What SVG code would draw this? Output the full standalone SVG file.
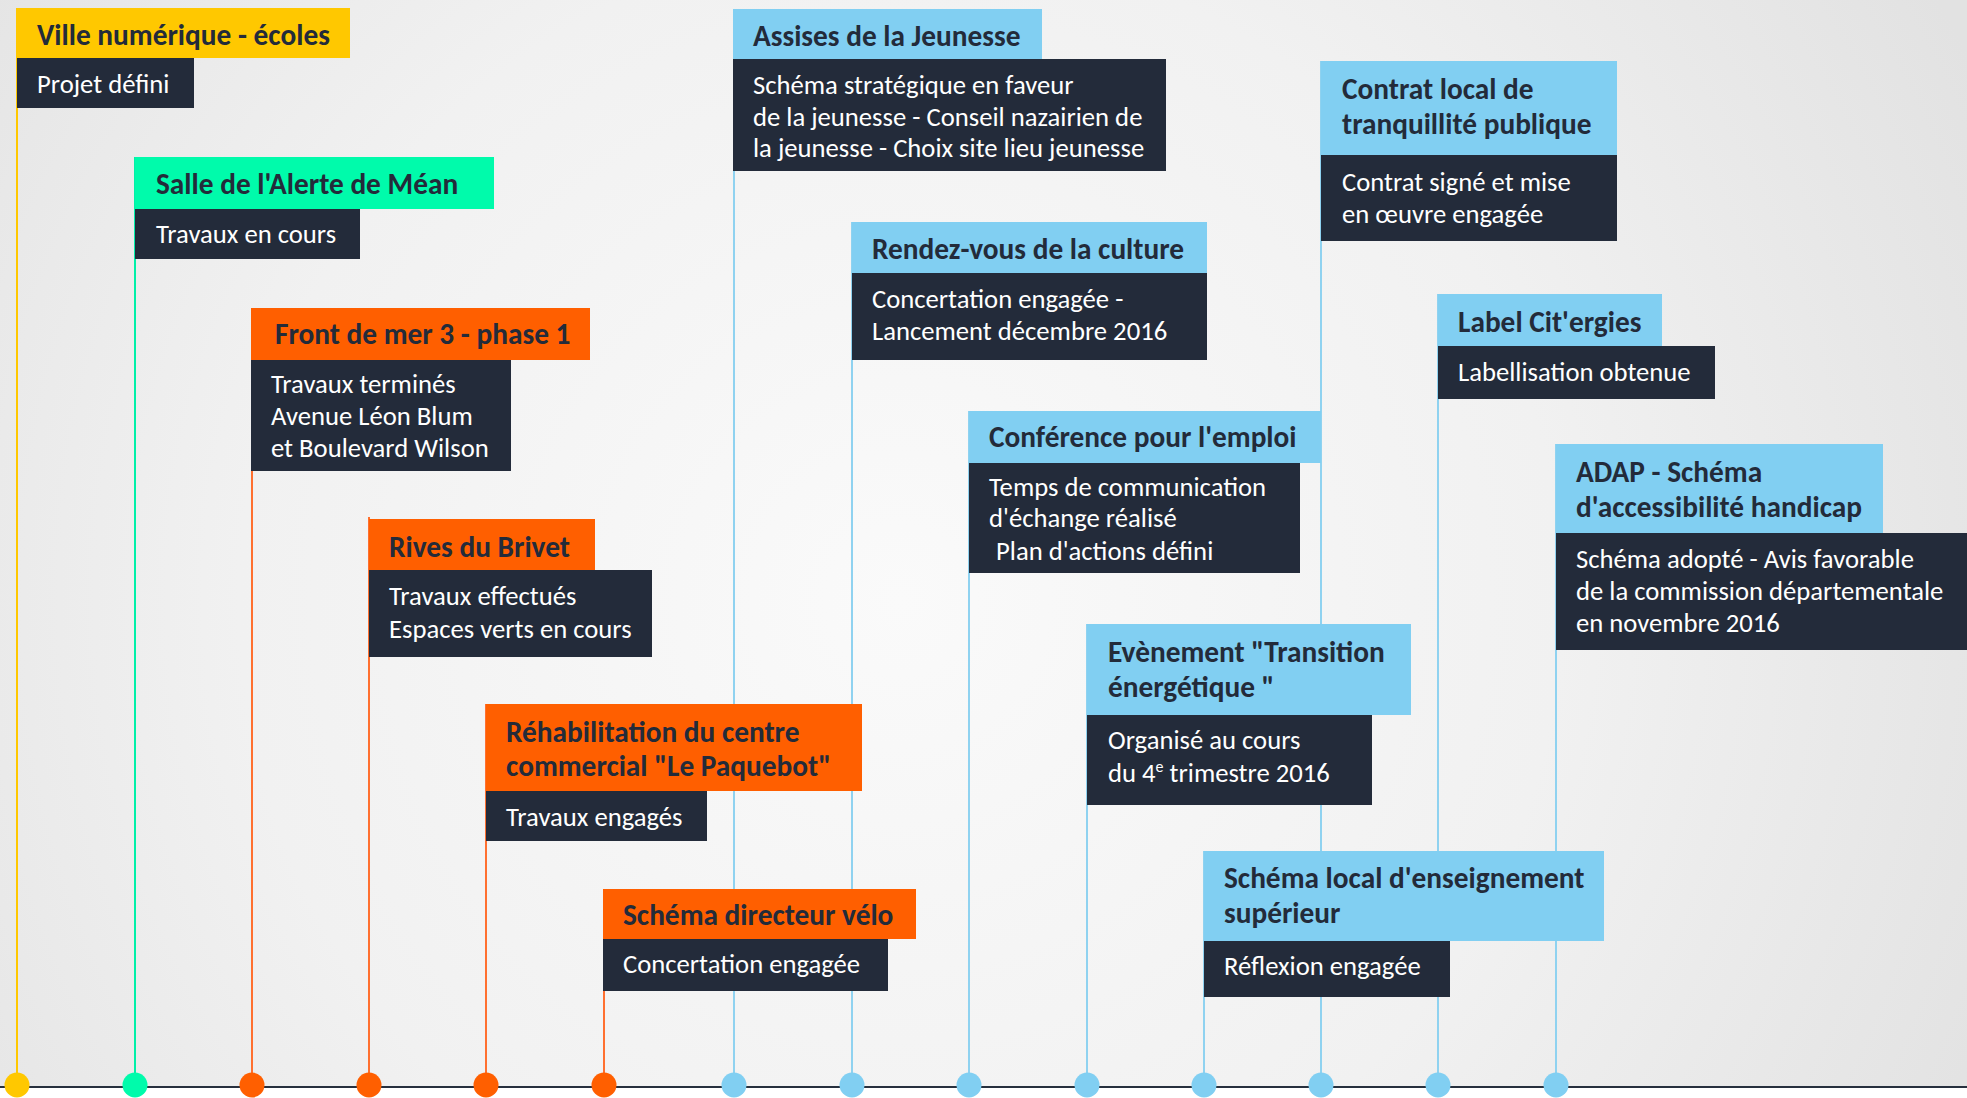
<svg xmlns="http://www.w3.org/2000/svg" width="1967" height="1098" viewBox="0 0 1967 1098">
<defs>
<radialGradient id="bg" cx="900" cy="600" r="1200" gradientUnits="userSpaceOnUse">
<stop offset="0" stop-color="#fafafa"/>
<stop offset="0.55" stop-color="#f1f1f1"/>
<stop offset="1" stop-color="#e2e2e2"/>
</radialGradient>
<style>
.hd{font-family:Carlito,Lato,"Liberation Sans",sans-serif;font-weight:bold;font-size:29.33px;fill:#232b3a}
.bd{font-family:Carlito,Lato,"Liberation Sans",sans-serif;font-size:26.67px;fill:#ffffff}
.dk{fill:#232b3a}
.yl{fill:#ffc800}.gr{fill:#00fbab}.or{fill:#ff5f00}.bl{fill:#81cff2}
.ly{stroke:#ffc800}.lg{stroke:#00f0a8}.lo{stroke:#ff7030}.lb{stroke:#8fd2f0}
.ln{stroke-width:2;fill:none}
</style>
</defs>
<rect x="0" y="0" width="1967" height="1098" fill="url(#bg)"/>
<rect x="0" y="1088" width="1967" height="10" fill="#ffffff"/>
<g id="connectors">
<line class="ln ly" x1="17" y1="8" x2="17" y2="1085"/>
<line class="ln lg" x1="135" y1="157" x2="135" y2="1085"/>
<line class="ln lo" x1="252" y1="308" x2="252" y2="1085"/>
<line class="ln lo" x1="369" y1="517" x2="369" y2="1085"/>
<line class="ln lo" x1="486" y1="704" x2="486" y2="1085"/>
<line class="ln lo" x1="604" y1="889" x2="604" y2="1085"/>
<line class="ln lb" x1="734" y1="9" x2="734" y2="1085"/>
<line class="ln lb" x1="852" y1="222" x2="852" y2="1085"/>
<line class="ln lb" x1="969" y1="411" x2="969" y2="1085"/>
<line class="ln lb" x1="1087" y1="624" x2="1087" y2="1085"/>
<line class="ln lb" x1="1204" y1="851" x2="1204" y2="1085"/>
<line class="ln lb" x1="1321" y1="61" x2="1321" y2="1085"/>
<line class="ln lb" x1="1438" y1="294" x2="1438" y2="1085"/>
<line class="ln lb" x1="1556" y1="444" x2="1556" y2="1085"/>
<line x1="0" y1="1087" x2="1967" y2="1087" stroke="#27303e" stroke-width="2"/>
<circle class="yl" cx="17" cy="1085" r="12.5"/>
<circle class="gr" cx="135" cy="1085" r="12.5"/>
<circle class="or" cx="252" cy="1085" r="12.5"/>
<circle class="or" cx="369" cy="1085" r="12.5"/>
<circle class="or" cx="486" cy="1085" r="12.5"/>
<circle class="or" cx="604" cy="1085" r="12.5"/>
<circle class="bl" cx="734" cy="1085" r="12.5"/>
<circle class="bl" cx="852" cy="1085" r="12.5"/>
<circle class="bl" cx="969" cy="1085" r="12.5"/>
<circle class="bl" cx="1087" cy="1085" r="12.5"/>
<circle class="bl" cx="1204" cy="1085" r="12.5"/>
<circle class="bl" cx="1321" cy="1085" r="12.5"/>
<circle class="bl" cx="1438" cy="1085" r="12.5"/>
<circle class="bl" cx="1556" cy="1085" r="12.5"/>
</g>
<g id="n1">
<rect class="yl" x="17" y="8" width="333" height="50"/>
<text class="hd" x="37" y="45">Ville numérique - écoles</text>
<rect class="dk" x="17" y="58" width="177" height="50"/>
<text class="bd" x="37" y="93">Projet défini</text>
</g>
<g id="n2">
<rect class="gr" x="135" y="157" width="359" height="52"/>
<text class="hd" x="156" y="194">Salle de l'Alerte de Méan</text>
<rect class="dk" x="135" y="209" width="225" height="50"/>
<text class="bd" x="156" y="243">Travaux en cours</text>
</g>
<g id="n3">
<rect class="or" x="251" y="308" width="339" height="52"/>
<text class="hd" x="275" y="344">Front de mer 3 - phase 1</text>
<rect class="dk" x="251" y="360" width="260" height="111"/>
<text class="bd" x="271" y="393">Travaux terminés</text>
<text class="bd" x="271" y="425">Avenue Léon Blum</text>
<text class="bd" x="271" y="457">et Boulevard Wilson</text>
</g>
<g id="n4">
<rect class="or" x="369" y="519" width="226" height="51"/>
<text class="hd" x="389" y="557">Rives du Brivet</text>
<rect class="dk" x="369" y="570" width="283" height="87"/>
<text class="bd" x="389" y="605">Travaux effectués</text>
<text class="bd" x="389" y="638">Espaces verts en cours</text>
</g>
<g id="n5">
<rect class="or" x="486" y="704" width="376" height="87"/>
<text class="hd" x="506" y="742">Réhabilitation du centre</text>
<text class="hd" x="506" y="776">commercial "Le Paquebot"</text>
<rect class="dk" x="486" y="791" width="221" height="50"/>
<text class="bd" x="506" y="826">Travaux engagés</text>
</g>
<g id="n6">
<rect class="or" x="603" y="889" width="313" height="50"/>
<text class="hd" x="623" y="925">Schéma directeur vélo</text>
<rect class="dk" x="603" y="939" width="285" height="52"/>
<text class="bd" x="623" y="973">Concertation engagée</text>
</g>
<g id="n7">
<rect class="bl" x="733" y="9" width="309" height="50"/>
<text class="hd" x="753" y="46">Assises de la Jeunesse</text>
<rect class="dk" x="733" y="59" width="433" height="112"/>
<text class="bd" x="753" y="94">Schéma stratégique en faveur</text>
<text class="bd" x="753" y="126">de la jeunesse - Conseil nazairien de</text>
<text class="bd" x="753" y="157">la jeunesse - Choix site lieu jeunesse</text>
</g>
<g id="n8">
<rect class="bl" x="852" y="222" width="355" height="51"/>
<text class="hd" x="872" y="259">Rendez-vous de la culture</text>
<rect class="dk" x="852" y="273" width="355" height="87"/>
<text class="bd" x="872" y="308">Concertation engagée -</text>
<text class="bd" x="872" y="340">Lancement décembre 2016</text>
</g>
<g id="n9">
<rect class="bl" x="969" y="411" width="352" height="52"/>
<text class="hd" x="989" y="447">Conférence pour l'emploi</text>
<rect class="dk" x="969" y="463" width="331" height="110"/>
<text class="bd" x="989" y="496">Temps de communication</text>
<text class="bd" x="989" y="527">d'échange réalisé</text>
<text class="bd" x="996" y="560">Plan d'actions défini</text>
</g>
<g id="n10">
<rect class="bl" x="1087" y="624" width="324" height="91"/>
<text class="hd" x="1108" y="662">Evènement "Transition</text>
<text class="hd" x="1108" y="697">énergétique "</text>
<rect class="dk" x="1087" y="715" width="285" height="90"/>
<text class="bd" x="1108" y="749">Organisé au cours</text>
<text class="bd" x="1108" y="782">du 4<tspan font-size="16" dy="-10">e</tspan><tspan dy="10"> trimestre 2016</tspan></text>
</g>
<g id="n11">
<rect class="bl" x="1204" y="851" width="400" height="90"/>
<text class="hd" x="1224" y="888">Schéma local d'enseignement</text>
<text class="hd" x="1224" y="923">supérieur</text>
<rect class="dk" x="1204" y="941" width="246" height="56"/>
<text class="bd" x="1224" y="975">Réflexion engagée</text>
</g>
<g id="n12">
<rect class="bl" x="1321" y="61" width="296" height="94"/>
<text class="hd" x="1342" y="99">Contrat local de</text>
<text class="hd" x="1342" y="134">tranquillité publique</text>
<rect class="dk" x="1321" y="155" width="296" height="86"/>
<text class="bd" x="1342" y="191">Contrat signé et mise</text>
<text class="bd" x="1342" y="223">en œuvre engagée</text>
</g>
<g id="n13">
<rect class="bl" x="1438" y="294" width="224" height="52"/>
<text class="hd" x="1458" y="332">Label Cit'ergies</text>
<rect class="dk" x="1438" y="346" width="277" height="53"/>
<text class="bd" x="1458" y="381">Labellisation obtenue</text>
</g>
<g id="n14">
<rect class="bl" x="1556" y="444" width="327" height="89"/>
<text class="hd" x="1576" y="482">ADAP - Schéma</text>
<text class="hd" x="1576" y="517">d'accessibilité handicap</text>
<rect class="dk" x="1556" y="533" width="411" height="117"/>
<text class="bd" x="1576" y="568">Schéma adopté - Avis favorable</text>
<text class="bd" x="1576" y="600">de la commission départementale</text>
<text class="bd" x="1576" y="632">en novembre 2016</text>
</g>
</svg>
